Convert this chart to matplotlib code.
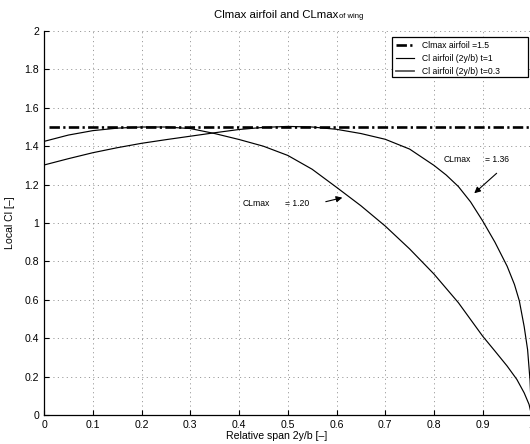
import numpy as np
import matplotlib
matplotlib.use("Agg")
import matplotlib.pyplot as plt
from matplotlib.patches import Rectangle

plt.rcParams['font.family'] = ['Liberation Sans', 'DejaVu Sans']
plt.rcParams['lines.scale_dashes'] = False

# spanwise stations and local lift coefficient for the two wings
span_t1 = [0.00, 0.05, 0.10, 0.15, 0.20, 0.25, 0.30, 0.35, 0.40, 0.45, 0.50,
           0.55, 0.60, 0.65, 0.70, 0.75, 0.80, 0.85, 0.90, 0.925, 0.95, 0.97,
           0.985, 0.995, 1.00]
cl_t1 = [1.425, 1.458, 1.481, 1.494, 1.500, 1.500, 1.492, 1.466, 1.435, 1.400, 1.352,
         1.280, 1.186, 1.090, 0.984, 0.865, 0.734, 0.585, 0.410, 0.333, 0.255, 0.185,
         0.115, 0.055, 0.000]

span_t03 = [0.00, 0.05, 0.10, 0.15, 0.20, 0.25, 0.30, 0.35, 0.40, 0.45, 0.50,
            0.55, 0.60, 0.65, 0.70, 0.75, 0.80, 0.825, 0.85, 0.875, 0.90, 0.925,
            0.95, 0.965, 0.975, 0.985, 0.992, 0.997, 1.00]
cl_t03 = [1.302, 1.335, 1.366, 1.392, 1.415, 1.434, 1.452, 1.470, 1.487, 1.498, 1.503,
          1.500, 1.488, 1.466, 1.436, 1.385, 1.300, 1.250, 1.190, 1.110, 1.010, 0.900,
          0.775, 0.680, 0.595, 0.460, 0.340, 0.180, 0.000]

clmax_airfoil = 1.5
clmax_x = [0.01, 1.0]

CLmax_t1 = 1.20
CLmax_t03 = 1.36

xticks = np.arange(0, 1.01, 0.1)
yticks = np.arange(0, 2.01, 0.2)

fig = plt.figure(figsize=(5.3, 4.44), dpi=100)
W, H = 530.0, 444.0
ax = fig.add_axes([44 / W, (H - 415) / H, 487.5 / W, 384 / H])

ax.plot(clmax_x, [clmax_airfoil, clmax_airfoil], color='black', lw=1.9,
        dashes=(7.5, 2.4, 1.6, 2.4), label='Clmax airfoil =1.5')
ax.plot(span_t1, cl_t1, color='black', lw=0.85, label='Cl airfoil (2y/b) t=1')
ax.plot(span_t03, cl_t03, color='black', lw=0.85)
# legend proxy for the second distribution
ax.plot([], [], color='#555555', lw=1.3, label='Cl airfoil (2y/b) t=0.3')

ax.set_xlim(0, 1)
ax.set_ylim(0, 2)
ax.set_xticks(xticks)
ax.set_yticks(yticks)
ax.set_xticklabels([f'{v:g}' for v in np.round(xticks, 1)])
ax.set_yticklabels([f'{v:g}' for v in np.round(yticks, 1)])
ax.tick_params(direction='in', length=3.5, width=0.8, labelsize=7.6, pad=3.5)
ax.grid(True, color='#888888', lw=0.6, linestyle=(0, (0.8, 2.4)))
for s in ['top', 'right']:
    ax.spines[s].set_visible(False)
for s in ['left', 'bottom']:
    ax.spines[s].set_linewidth(0.9)

# CLmax annotations
ax.text(0.407, 1.099, 'CLmax', fontsize=6.2, va='center')
ax.text(0.494, 1.099, '= %.2f' % CLmax_t1, fontsize=6.2, va='center')
ax.annotate('', xy=(0.612, 1.132), xytext=(0.578, 1.111),
            arrowprops=dict(arrowstyle='-|>', color='black', lw=0.8,
                            mutation_scale=9, shrinkA=0, shrinkB=0))
ax.text(0.819, 1.333, 'CLmax', fontsize=6.2, va='center')
ax.text(0.905, 1.333, '= %.2f' % CLmax_t03, fontsize=6.2, va='center')
ax.annotate('', xy=(0.8826, 1.155), xytext=(0.9285, 1.259),
            arrowprops=dict(arrowstyle='-|>', color='black', lw=0.8,
                            mutation_scale=9, shrinkA=0, shrinkB=0))

# legend entries without their own frame; the box is drawn wider on the right
leg = ax.legend(loc='upper left', bbox_to_anchor=(392 / W, 1 - 37 / H),
                bbox_transform=fig.transFigure, borderaxespad=0, fontsize=6.2,
                frameon=False, handlelength=2.1, handletextpad=0.9,
                labelspacing=0.45, borderpad=0.5)
leg.set_zorder(6)
ax.add_patch(Rectangle((392 / W, 1 - 77 / H), 136 / W, 40 / H,
                       transform=fig.transFigure, facecolor='white',
                       edgecolor='black', lw=0.9, zorder=5, clip_on=False))

# title with subscripted tail, axis labels
fig.text(338 / W, 1 - 14.5 / H, 'Clmax airfoil and CLmax', fontsize=8.2,
         ha='right', va='center')
fig.text(339 / W, 1 - 16.5 / H, 'of wing', fontsize=5.5, ha='left', va='center')
fig.text(277 / W, 1 - 436 / H, 'Relative span 2y/b [–]', fontsize=7.6,
         ha='center', va='center')
fig.text(10 / W, 1 - 223 / H, 'Local Cl [–]', fontsize=7.6, rotation=90,
         ha='center', va='center')

fig.savefig('out.png', dpi=100)
